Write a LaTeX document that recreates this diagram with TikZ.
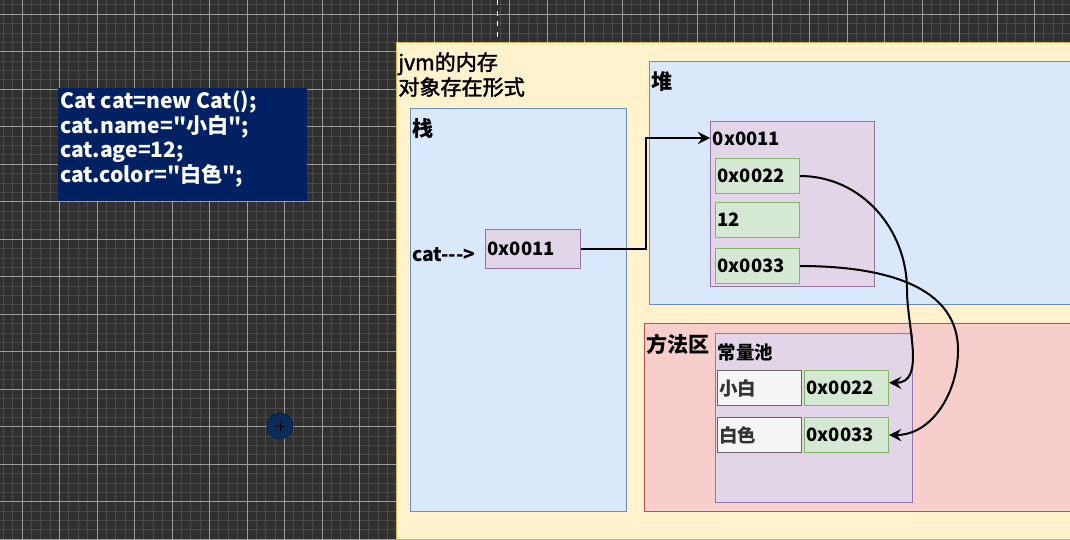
\documentclass[tikz,border=0pt]{standalone}
\usepackage{fontspec}
\setmainfont{Noto Sans CJK SC}[Ligatures=TeXOff]
\newfontfamily\medfont{Noto Sans CJK SC}[Ligatures=TeXOff, FakeBold=2]
\usetikzlibrary{arrows.meta,calc}

\definecolor{canvas}{HTML}{303030}
\definecolor{gridmin}{HTML}{4A4A4A}
\definecolor{gridmaj}{HTML}{9C9C9C}
\definecolor{codebg}{HTML}{022163}
\definecolor{pinF}{HTML}{0B2A5E}
\definecolor{ylwF}{HTML}{FFF2CC}\definecolor{ylwD}{HTML}{D6B656}
\definecolor{bluF}{HTML}{DAE8FC}\definecolor{bluD}{HTML}{6C8EBF}
\definecolor{purF}{HTML}{E1D5E7}\definecolor{purD}{HTML}{9673A6}
\definecolor{grnF}{HTML}{D5E8D4}\definecolor{grnD}{HTML}{82B366}
\definecolor{redF}{HTML}{F8CECC}\definecolor{redD}{HTML}{B85450}
\definecolor{gryF}{HTML}{F5F5F5}\definecolor{gryD}{HTML}{666666}
\definecolor{gryT}{HTML}{333333}

\begin{document}
\begin{tikzpicture}[
    x=0.02cm, y=-0.02cm,
    >={Stealth[length=7pt,width=7pt,inset=2.5pt]},
    every node/.style={font=\bfseries\fontsize{10.5}{12}\selectfont, inner sep=0pt},
    % 尺寸（像素）
    sz/.style 2 args={minimum width=#1*0.02cm, minimum height=#2*0.02cm},
    % 区域框
    area/.style={draw, rectangle, anchor=north west, line width=0.6pt},
    % 区域标题
    ttl/.style={anchor=north west, xshift=1.4pt, yshift=-6pt,
        font=\bfseries\fontsize{12}{14}\selectfont},
    ttls/.style={ttl, font=\bfseries\fontsize{10.5}{12}\selectfont},
    % 小格子
    cell/.style={draw, rectangle, anchor=north west, line width=0.6pt,
        sz={84}{35}, text width=1.6cm, align=left, inner xsep=0.04cm},
    fld/.style={cell, fill=grnF, draw=grnD},
    key/.style={cell, fill=gryF, draw=gryD, text=gryT},
    % 连线
    ptr/.style={->, line width=1.15pt, black},
]

%% ── 画布网格 ───────────────────────────────────────────
\useasboundingbox (0,0) rectangle (1070,540);
\clip (0,0) rectangle (1070,540);
\fill[canvas] (0,0) rectangle (1070,540);
\foreach \i in {0,...,114}{
    \draw[gridmin, line width=0.55pt] (3.25+9.375*\i,0) -- (3.25+9.375*\i,540);
}
\foreach \i in {0,...,57}{
    \draw[gridmin, line width=0.55pt] (0,4.925+9.375*\i) -- (1070,4.925+9.375*\i);
}
\foreach \i in {0,...,28}{
    \draw[gridmaj, line width=0.55pt] (22+37.5*\i,0) -- (22+37.5*\i,540);
}
\foreach \i in {0,...,14}{
    \draw[gridmaj, line width=0.55pt] (0,14.3+37.5*\i) -- (1070,14.3+37.5*\i);
}
\draw[white, dashed, line width=0.4pt] (497,0) -- (497,42);

%% ── 代码框 ─────────────────────────────────────────────
\node[anchor=north west, fill=codebg, text=white, inner sep=0.04cm] (code) at (58,88)
    {\parbox[t][2.18cm][t]{4.9cm}{\fontsize{12}{14.2}\selectfont
        Cat cat=new Cat();\\
        cat.name="小白";\\
        cat.age=12;\\
        cat.color="白色";}};

\node[circle, fill=pinF, draw=pinF!70!black, minimum size=26*0.02cm] (pin) at (280,426) {};
\draw[black, line width=0.5pt] (pin.center) ++(-5,0) -- ++(10,0);
\draw[black, line width=0.5pt] (pin.center) ++(0,-5) -- ++(0,10);

%% ── jvm 内存 ───────────────────────────────────────────
\node[area, fill=ylwF, draw=ylwD, sz={700}{497}] (jvm) at (396,42) {};
\node[anchor=north west, align=left, font=\medfont\fontsize{12}{14.2}\selectfont] (jvmtxt) at (398,52)
    {jvm的内存\\对象存在形式};

% 栈
\node[area, fill=bluF, draw=bluD, sz={216}{403}, label={[ttl]north west:栈}] (stack) at (410,108) {};
\node[anchor=west, font=\bfseries\fontsize{11}{13}\selectfont] (catlbl) at (412,255) {cat--->};
\node[cell, fill=purF, draw=purD, sz={95}{39}, text width=1.82cm] (sp) at (485,229) {0x0011};

% 堆
\node[area, fill=bluF, draw=bluD, sz={440}{243}, label={[ttl]north west:堆}] (heap) at (649,61) {};
\node[area, fill=purF, draw=purD, sz={164}{165}, label={[ttls]north west:0x0011}] (obj) at (710,121) {};
\node[fld] (f22) at (715,158) {0x0022};
\node[fld] (f12) at (715,202) {12};
\node[fld] (f33) at (715,248) {0x0033};

% 方法区
\node[area, fill=redF, draw=redD, sz={440}{188}, label={[ttl]north west:方法区}] (method) at (644,323) {};
\node[area, fill=purF, draw=purD, sz={197}{169}, label={[ttls]north west:常量池}] (pool) at (715,333) {};
\node[key] (s1) at (717,370) {小白};
\node[fld] (c22) at (804,370) {0x0022};
\node[key] (s2) at (717,417) {白色};
\node[fld] (c33) at (804,417) {0x0033};

%% ── 引用连线 ───────────────────────────────────────────
\draw[ptr] (sp.east) -- ++(65,0) |- ($(obj.north west)+(0,17)$);
\draw[ptr] (f22.east) to[out=0, in=90] (907,290) to[out=-90, in=0] ([yshift=3pt]c22.east);
\draw[ptr] (f33.east) to[out=0, in=90] (958,350) to[out=-90, in=0] (c33.east);

\end{tikzpicture}
\end{document}
